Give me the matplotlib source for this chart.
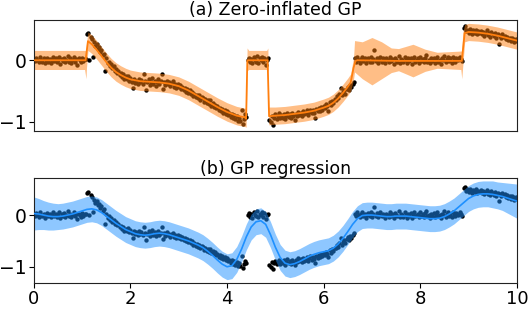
import numpy as np
import matplotlib
matplotlib.use("Agg")
import matplotlib.pyplot as plt

obs_y = [
    0.02, -0.01, 0.04, 0.00, -0.03, 0.05, 0.01, -0.02, 0.03, -0.05,
    0.01, 0.04, -0.02, 0.02, -0.04, 0.00, 0.06, -0.01, 0.03, -0.03,
    0.00, 0.05, -0.06, 0.02, -0.01, 0.04, -0.03, 0.01, 0.07, -0.02,
    0.03, -0.04, 0.00, 0.05, -0.02, 0.02, -0.08, 0.03, 0.01, -0.03,
    0.04, -0.01, 0.02, 0.02, 0.42, 0.44, 0.00, 0.38, 0.35, 0.06,
    0.30, 0.24, 0.27, 0.19, 0.22, 0.13, 0.17, 0.08, 0.11, -0.17,
    0.03, -0.05, -0.02, -0.09, -0.06, -0.13, -0.10, -0.17, -0.14, -0.20,
    -0.18, -0.24, -0.21, -0.27, -0.23, -0.30, -0.26, -0.31, -0.25, -0.33,
    -0.28, -0.35, -0.45, -0.31, -0.37, -0.33, -0.39, -0.30, -0.36, -0.32,
    -0.38, -0.23, -0.34, -0.48, -0.36, -0.31, -0.40, -0.35, -0.29, -0.38,
    -0.33, -0.41, -0.36, -0.30, -0.39, -0.34, -0.23, -0.46, -0.35, -0.40,
    -0.33, -0.39, -0.36, -0.42, -0.37, -0.34, -0.43, -0.39, -0.45, -0.38,
    -0.44, -0.40, -0.47, -0.43, -0.49, -0.45, -0.51, -0.47, -0.53, -0.49,
    -0.55, -0.51, -0.58, -0.54, -0.60, -0.56, -0.62, -0.57, -0.64, -0.59,
    -0.61, -0.67, -0.63, -0.70, -0.65, -0.71, -0.65, -0.74, -0.70, -0.76,
    -0.72, -0.78, -0.75, -0.81, -0.77, -0.83, -0.79, -0.85, -0.81, -0.87,
    -0.83, -0.89, -0.86, -0.92, -0.87, -0.94, -0.89, -0.96, -0.91, -0.98,
    -0.93, -0.99, -0.80, -1.03, -0.95, -0.88, -0.92, 0.00, 0.04, -0.03,
    0.02, -0.05, 0.05, 0.01, -0.02, 0.07, -0.04, 0.03, 0.00, 0.06,
    -0.03, 0.04, -0.07, 0.01, 0.03, -0.97, -1.01, -0.90, -1.05, -0.93,
    -0.88, -0.95, -0.91, -0.86, -0.94, -0.89, -0.93, -0.87, -0.96, -0.90,
    -0.85, -0.92, -0.88, -0.94, -0.86, -0.91, -0.97, -0.87, -0.90, -0.84,
    -0.89, -0.85, -0.91, -0.83, -0.88, -0.86, -0.81, -0.89, -0.84, -0.80,
    -0.86, -0.81, -0.85, -0.93, -0.79, -0.83, -0.77, -0.82, -0.76, -0.80,
    -0.74, -0.78, -0.71, -0.75, -0.82, -0.68, -0.73, -0.66, -0.70, -0.63,
    -0.64, -0.58, -0.62, -0.55, -0.45, -0.57, -0.52, -0.49, -0.54, -0.46,
    -0.43, -0.49, -0.40, -0.44, -0.39, -0.35, 0.03, -0.02, 0.05, 0.01,
    -0.04, 0.02, 0.06, -0.01, 0.03, -0.05, 0.01, 0.04, -0.02, 0.05,
    -0.03, 0.02, 0.16, -0.01, 0.04, -0.04, 0.01, 0.06, -0.02, 0.03,
    0.00, -0.05, 0.03, 0.01, -0.03, 0.05, -0.01, 0.02, -0.06, 0.04,
    0.01, -0.02, 0.07, -0.04, 0.02, 0.00, -0.03, 0.05, 0.01, -0.05,
    0.03, -0.01, 0.04, -0.06, 0.02, 0.06, -0.02, 0.00, 0.03, -0.04,
    0.05, -0.01, 0.02, -0.03, 0.04, 0.08, -0.02, 0.01, -0.05, 0.03,
    -0.01, 0.04, -0.04, 0.02, 0.06, -0.02, 0.01, -0.06, 0.03, 0.00,
    0.07, -0.03, 0.02, 0.05, -0.01, 0.03, -0.04, 0.06, 0.01, -0.02,
    0.04, 0.00, 0.03, 0.05, 0.02, -0.01, 0.52, 0.55, 0.47, 0.50,
    0.44, 0.51, 0.47, 0.43, 0.49, 0.45, 0.50, 0.42, 0.47, 0.44,
    0.48, 0.42, 0.46, 0.40, 0.45, 0.49, 0.41, 0.44, 0.38, 0.46,
    0.43, 0.39, 0.45, 0.37, 0.42, 0.27, 0.40, 0.36, 0.43, 0.38,
    0.40, 0.35, 0.38, 0.33, 0.37, 0.31, 0.36, 0.34, 0.30, 0.35,
    0.32,
]

# (a) zero-inflated GP posterior mean
zi_x = [0.0, 1.07, 1.09, 1.12, 1.2, 1.3, 1.4, 1.5, 1.6, 1.7, 1.8, 1.9, 2.0,
        2.2, 2.4, 2.6, 2.8, 3.0, 3.2, 3.4, 3.6, 3.8, 4.0, 4.2, 4.38, 4.395,
        4.42, 4.84, 4.87, 5.0, 5.2, 5.4, 5.6, 5.8, 6.0, 6.1, 6.2, 6.3, 6.4,
        6.5, 6.56, 6.62, 6.66, 6.7, 7.5, 8.86, 8.92, 9.0, 9.2, 9.4, 9.6,
        9.8, 10.0]
zi_mean = [0.0, 0.0, 0.12, 0.31, 0.26, 0.17, 0.07, -0.03, -0.12, -0.19,
           -0.24, -0.28, -0.31, -0.34, -0.35, -0.36, -0.38, -0.42, -0.49,
           -0.58, -0.67, -0.76, -0.84, -0.90, -0.93, -0.95, 0.0, 0.0, -0.91,
           -0.90, -0.89, -0.87, -0.85, -0.82, -0.77, -0.74, -0.69, -0.62,
           -0.53, -0.43, -0.36, -0.12, -0.01, 0.0, -0.01, -0.01, 0.44, 0.46,
           0.45, 0.43, 0.40, 0.36, 0.32]

# (a) credible band edges
zi_band_x = [0.0, 1.05, 1.08, 1.09, 1.12, 1.2, 1.3, 1.4, 1.5, 1.6, 1.7, 1.8,
             1.9, 2.0, 2.2, 2.4, 2.6, 2.8, 3.0, 3.2, 3.4, 3.6, 3.8, 4.0, 4.2,
             4.38, 4.395, 4.415, 4.45, 4.82, 4.845, 4.865, 5.0, 5.2, 5.4,
             5.6, 5.8, 6.0, 6.1, 6.2, 6.3, 6.4, 6.5, 6.56, 6.62, 6.64, 6.8,
             7.0, 7.2, 7.4, 7.55, 7.85, 8.1, 8.35, 8.6, 8.84, 8.86, 8.88,
             8.92, 9.0, 9.2, 9.4, 9.6, 9.8, 10.0]
zi_lo = [-0.15, -0.15, -0.30, -0.12, 0.16, 0.11, 0.02, -0.08, -0.18, -0.27,
         -0.34, -0.39, -0.43, -0.46, -0.49, -0.50, -0.51, -0.53, -0.57,
         -0.64, -0.73, -0.82, -0.91, -0.99, -1.05, -1.08, -1.09, -0.17,
         -0.15, -0.15, -0.17, -1.05, -1.04, -1.03, -1.01, -0.99, -0.96,
         -0.91, -0.88, -0.83, -0.76, -0.67, -0.57, -0.50, -0.30, -0.19,
         -0.30, -0.40, -0.30, -0.20, -0.17, -0.27, -0.18, -0.13, -0.14,
         -0.15, -0.30, -0.10, 0.30, 0.32, 0.31, 0.29, 0.26, 0.22, 0.18]
zi_hi = [0.16, 0.16, 0.16, 0.28, 0.46, 0.41, 0.32, 0.22, 0.12, 0.03, -0.04,
         -0.09, -0.13, -0.16, -0.19, -0.20, -0.21, -0.23, -0.27, -0.34,
         -0.43, -0.52, -0.61, -0.69, -0.75, -0.78, -0.79, 0.20, 0.16, 0.16,
         0.20, -0.76, -0.76, -0.75, -0.73, -0.71, -0.68, -0.63, -0.60,
         -0.55, -0.48, -0.39, -0.29, -0.22, 0.05, 0.32, 0.30, 0.37, 0.30,
         0.20, 0.19, 0.26, 0.18, 0.13, 0.14, 0.15, 0.15, 0.45, 0.58, 0.60,
         0.59, 0.57, 0.54, 0.50, 0.46]

# (b) plain GP regression, mean and half-width every 0.1
gp_mean = [0.03, 0.02, 0.00, -0.02, -0.03, -0.03, -0.02, 0.00, 0.02, 0.05,
           0.08, 0.11, 0.12, 0.10, 0.05, -0.02, -0.09, -0.16, -0.22, -0.28,
           -0.32, -0.36, -0.38, -0.39, -0.38, -0.36, -0.35, -0.36, -0.38,
           -0.41, -0.44, -0.47, -0.50, -0.54, -0.58, -0.63, -0.70, -0.78,
           -0.87, -0.95, -1.00, -0.98, -0.86, -0.66, -0.42, -0.23, -0.13,
           -0.11, -0.18, -0.38, -0.62, -0.82, -0.93, -0.96, -0.94, -0.90,
           -0.85, -0.80, -0.76, -0.73, -0.71, -0.69, -0.64, -0.56, -0.45,
           -0.32, -0.18, -0.07, -0.01, 0.00, 0.00, -0.01, -0.02, -0.03,
           -0.03, -0.02, -0.02, -0.02, -0.03, -0.04, -0.05, -0.06, -0.07,
           -0.07, -0.06, -0.03, 0.02, 0.08, 0.16, 0.24, 0.32, 0.37, 0.40,
           0.41, 0.41, 0.40, 0.38, 0.36, 0.33, 0.30, 0.27]
gp_half = [0.32, 0.30, 0.28, 0.27, 0.26, 0.25, 0.25, 0.25, 0.25, 0.25,
           0.25, 0.25, 0.25, 0.25, 0.25, 0.25, 0.25, 0.25, 0.25, 0.25,
           0.25, 0.25, 0.25, 0.25, 0.25, 0.25, 0.25, 0.25, 0.25, 0.25,
           0.25, 0.25, 0.25, 0.25, 0.25, 0.25, 0.25, 0.25, 0.25, 0.25,
           0.25, 0.25, 0.25, 0.25, 0.25, 0.25, 0.25, 0.25, 0.25, 0.25,
           0.25, 0.25, 0.25, 0.25, 0.25, 0.25, 0.25, 0.25, 0.25, 0.25,
           0.25, 0.25, 0.25, 0.25, 0.25, 0.25, 0.25, 0.25, 0.25, 0.25,
           0.25, 0.25, 0.25, 0.25, 0.25, 0.25, 0.25, 0.25, 0.25, 0.25,
           0.25, 0.25, 0.25, 0.25, 0.25, 0.25, 0.25, 0.25, 0.25, 0.25,
           0.25, 0.25, 0.25, 0.25, 0.25, 0.26, 0.26, 0.27, 0.29, 0.31,
           0.33]

obs_x = np.linspace(0, 10, len(obs_y))
gp_x = np.linspace(0, 10, len(gp_mean))
obs_y = np.array(obs_y)
gp_mean = np.array(gp_mean)
gp_half = np.array(gp_half)

ORANGE = "#ff7f0e"
BLUE = "#1e90ff"

fig = plt.figure(figsize=(5.29, 3.12), dpi=100)
ax1 = fig.add_axes([0.064, 0.58, 0.913, 0.357])
ax2 = fig.add_axes([0.064, 0.092, 0.913, 0.338])

# top: zero-inflated GP
ax1.scatter(obs_x, obs_y, s=10, color="k", linewidths=0, zorder=1)
ax1.fill_between(zi_band_x, zi_lo, zi_hi, color=ORANGE, alpha=0.5,
                 linewidth=0, zorder=2)
ax1.plot(zi_x, zi_mean, color=ORANGE, lw=1.3, zorder=3)
ax1.set_title("(a) Zero-inflated GP", fontsize=12.5, pad=3)
ax1.set_xlim(0, 10)
ax1.set_ylim(-1.15, 0.66)
ax1.set_xticks([])
ax1.set_yticks([0, -1])

# bottom: standard GP regression
ax2.scatter(obs_x, obs_y, s=10, color="k", linewidths=0, zorder=1)
ax2.fill_between(gp_x, gp_mean - gp_half, gp_mean + gp_half, color=BLUE,
                 alpha=0.5, linewidth=0, zorder=2)
ax2.plot(gp_x, gp_mean, color=BLUE, lw=1.2, zorder=3)
ax2.set_title("(b) GP regression", fontsize=12.5, pad=3)
ax2.set_xlim(0, 10)
ax2.set_ylim(-1.32, 0.72)
ax2.set_xticks([0, 2, 4, 6, 8, 10])
ax2.set_yticks([0, -1])

for ax in (ax1, ax2):
    ax.tick_params(labelsize=13.5, length=3.5, width=0.8, pad=1.5)
    for sp in ax.spines.values():
        sp.set_linewidth(0.8)
        sp.set_color("#222222")
ax2.tick_params(axis="x", labelsize=13, pad=1)

plt.savefig("out.png", dpi=100)
